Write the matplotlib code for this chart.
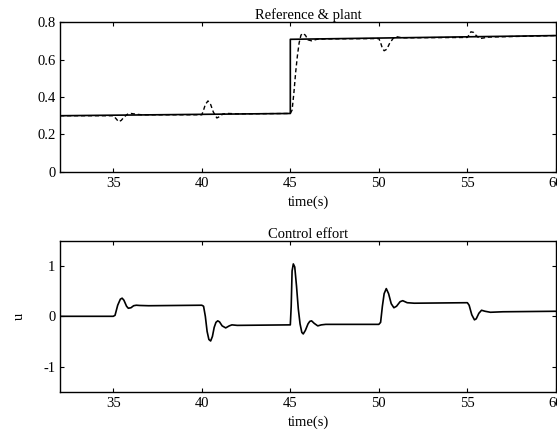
import matplotlib
matplotlib.use('Agg')
import matplotlib.pyplot as plt

plt.rcParams['font.family'] = ['Liberation Serif', 'DejaVu Serif']
plt.rcParams['font.size'] = 10.5
plt.rcParams['axes.unicode_minus'] = False

# Reference signal (solid)
ref_t = [32, 45, 45, 60]
ref_y = [0.300, 0.312, 0.708, 0.728]

# Plant output (dashed)
plant_t = [32, 35.0, 35.15, 35.3, 35.45, 35.6, 35.8, 36.0, 36.3, 36.6, 37,
           40.0, 40.1, 40.2, 40.35, 40.5, 40.65, 40.85, 41.0, 41.2, 41.5, 42,
           45.0, 45.1, 45.2, 45.3, 45.4, 45.5, 45.6, 45.7, 45.85, 46.0, 46.2, 46.5, 47,
           50.0, 50.1, 50.2, 50.3, 50.45, 50.6, 50.8, 51.0, 51.3, 51.6,
           55.0, 55.1, 55.2, 55.35, 55.5, 55.7, 55.9, 56.2, 60]
plant_y = [0.300, 0.300, 0.285, 0.268, 0.275, 0.292, 0.308, 0.312, 0.308, 0.305, 0.305,
           0.305, 0.33, 0.36, 0.379, 0.36, 0.32, 0.288, 0.295, 0.31, 0.312, 0.310,
           0.312, 0.33, 0.42, 0.53, 0.62, 0.69, 0.73, 0.74, 0.73, 0.705, 0.700, 0.708, 0.710,
           0.712, 0.69, 0.66, 0.647, 0.655, 0.685, 0.712, 0.722, 0.716, 0.716,
           0.718, 0.732, 0.748, 0.745, 0.728, 0.712, 0.715, 0.720, 0.728]

# Control effort u
u_t = [32, 35.0, 35.1, 35.25, 35.4, 35.5, 35.6, 35.75, 35.85, 36.0, 36.15, 36.3, 36.5, 37,
       40.0, 40.1, 40.2, 40.3, 40.4, 40.5, 40.6, 40.7, 40.8, 40.9, 41.0, 41.15, 41.35, 41.55, 41.7, 42,
       45.0, 45.05, 45.1, 45.17, 45.25, 45.35, 45.45, 45.55, 45.65, 45.73, 45.85, 46.0, 46.1, 46.2,
       46.35, 46.55, 46.75, 47,
       50.0, 50.1, 50.2, 50.3, 50.42, 50.55, 50.7, 50.85, 51.0, 51.2, 51.35, 51.6, 52,
       55.0, 55.1, 55.25, 55.4, 55.5, 55.65, 55.8, 56.0, 56.3, 57, 60]
u_y = [0, 0, 0.02, 0.22, 0.34, 0.36, 0.32, 0.20, 0.16, 0.17, 0.21, 0.22, 0.215, 0.21,
       0.22, 0.20, 0.0, -0.30, -0.46, -0.49, -0.40, -0.22, -0.12, -0.09, -0.11, -0.19, -0.23, -0.19, -0.17, -0.18,
       -0.17, 0.20, 0.90, 1.04, 0.98, 0.60, 0.15, -0.15, -0.32, -0.35, -0.28, -0.15, -0.10, -0.09,
       -0.14, -0.19, -0.17, -0.16,
       -0.16, -0.12, 0.20, 0.45, 0.55, 0.45, 0.25, 0.17, 0.20, 0.29, 0.31, 0.27, 0.26,
       0.27, 0.22, 0.03, -0.07, -0.05, 0.06, 0.12, 0.10, 0.08, 0.09, 0.10]

fig = plt.figure(figsize=(5.57, 4.33), dpi=100)
ax1 = fig.add_axes([0.108, 0.603, 0.890, 0.346])
ax2 = fig.add_axes([0.108, 0.095, 0.890, 0.349])

ax1.plot(ref_t, ref_y, color='black', lw=1.2)
ax1.plot(plant_t, plant_y, color='black', lw=1.0, linestyle=(0, (3, 2)))
ax1.set_xlim(32, 60)
ax1.set_ylim(0, 0.8)
ax1.set_yticks([0, 0.2, 0.4, 0.6, 0.8])
ax1.set_yticklabels(['0', '0.2', '0.4', '0.6', '0.8'])
ax1.set_title('Reference & plant', fontsize=10.5, pad=2)
ax1.set_xlabel('time(s)', fontsize=10.5)

ax2.plot(u_t, u_y, color='black', lw=1.2)
ax2.set_xlim(32, 60)
ax2.set_ylim(-1.5, 1.5)
ax2.set_yticks([-1, 0, 1])
ax2.set_title('Control effort', fontsize=10.5, pad=2)
ax2.set_xlabel('time(s)', fontsize=10.5)
ax2.set_ylabel('u', fontsize=10.5)
ax2.yaxis.set_label_coords(-0.07, 0.5)

for ax in (ax1, ax2):
    ax.set_xticks([35, 40, 45, 50, 55, 60])
    ax.tick_params(direction='in', top=True, right=True, length=3, labelsize=10.5)
    for s in ax.spines.values():
        s.set_linewidth(1.0)

plt.savefig('out.png', dpi=100)
